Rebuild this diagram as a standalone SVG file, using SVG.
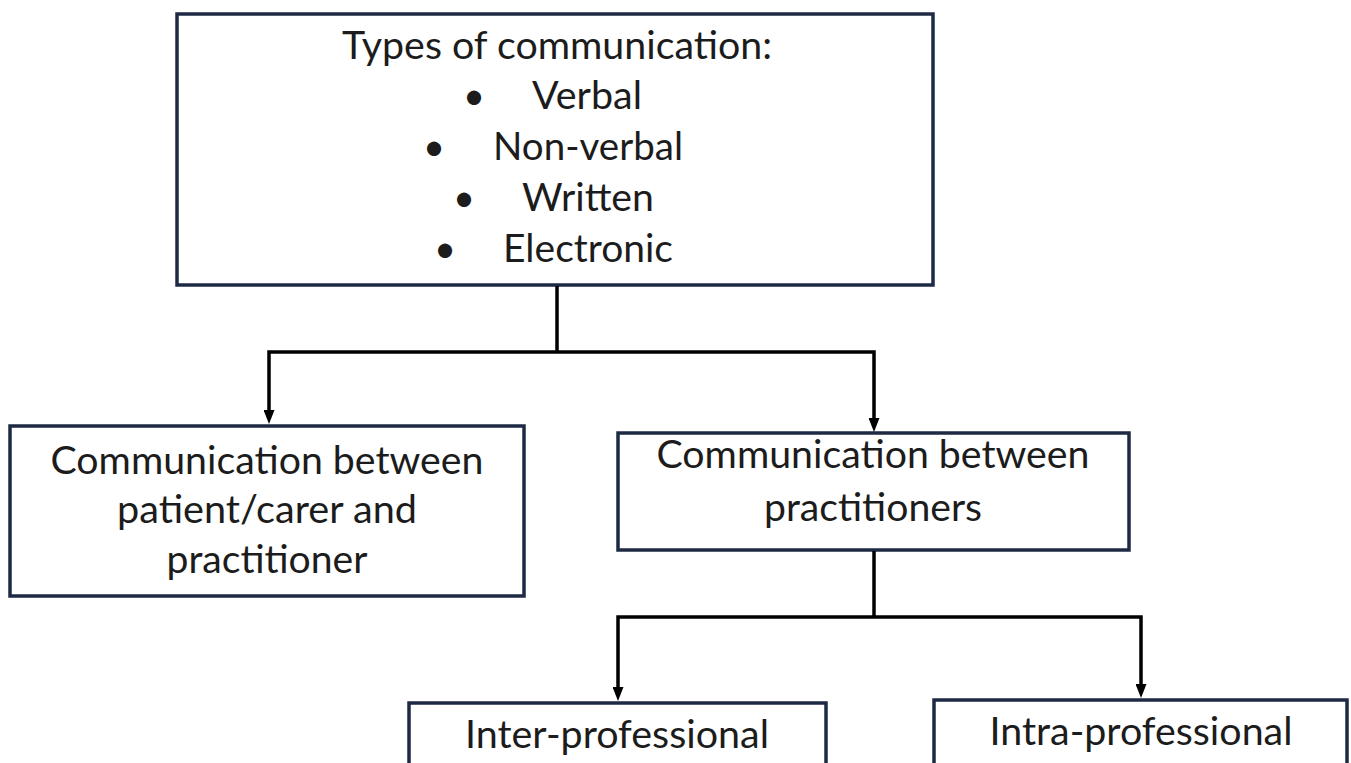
<svg xmlns="http://www.w3.org/2000/svg" width="1351" height="763" viewBox="0 0 1351 763">
  <style>
    .box { fill: #ffffff; stroke: #1e2a44; stroke-width: 3.5; }
    .lbl { font-family: Lato, "Open Sans", "Liberation Sans", sans-serif; font-size: 38px; fill: #1c1c1c; }
    .c { text-anchor: middle; }
    .conn { fill: none; stroke: #000000; stroke-width: 3.5; }
  </style>
  <defs>
    <marker id="arrow" markerUnits="userSpaceOnUse" markerWidth="14" markerHeight="11" refX="1" refY="5.5" orient="auto">
      <path d="M0,0 L14,5.5 L0,11 Z" fill="#000000"/>
    </marker>
  </defs>
  <rect width="1351" height="763" fill="#ffffff"/>

  <g id="node-types">
    <rect class="box" x="177" y="14" width="756" height="271"/>
    <text class="lbl c" x="557" y="59" textLength="430" lengthAdjust="spacingAndGlyphs">Types of communication:</text>
    <text class="lbl c" x="474" y="109">•</text>
    <text class="lbl" x="532" y="109" textLength="110" lengthAdjust="spacingAndGlyphs">Verbal</text>
    <text class="lbl c" x="434" y="160">•</text>
    <text class="lbl" x="493" y="160" textLength="190" lengthAdjust="spacingAndGlyphs">Non-verbal</text>
    <text class="lbl c" x="464" y="211">•</text>
    <text class="lbl" x="522" y="211" textLength="132" lengthAdjust="spacingAndGlyphs">Written</text>
    <text class="lbl c" x="445" y="262">•</text>
    <text class="lbl" x="503" y="262" textLength="170" lengthAdjust="spacingAndGlyphs">Electronic</text>
  </g>

  <g id="node-patient">
    <rect class="box" x="10" y="426" width="514" height="170"/>
    <text class="lbl c" x="267" y="474" textLength="433" lengthAdjust="spacingAndGlyphs">Communication between</text>
    <text class="lbl c" x="267" y="523" textLength="300" lengthAdjust="spacingAndGlyphs">patient/carer and</text>
    <text class="lbl c" x="267" y="573" textLength="201" lengthAdjust="spacingAndGlyphs">practitioner</text>
  </g>

  <g id="node-practitioners">
    <rect class="box" x="618" y="433" width="511" height="117"/>
    <text class="lbl c" x="873" y="468" textLength="433" lengthAdjust="spacingAndGlyphs">Communication between</text>
    <text class="lbl c" x="873" y="521" textLength="218" lengthAdjust="spacingAndGlyphs">practitioners</text>
  </g>

  <g id="node-inter">
    <rect class="box" x="409" y="703" width="417" height="80"/>
    <text class="lbl c" x="617" y="748" textLength="304" lengthAdjust="spacingAndGlyphs">Inter-professional</text>
  </g>

  <g id="node-intra">
    <rect class="box" x="934" y="700" width="413" height="80"/>
    <text class="lbl c" x="1141" y="745" textLength="303" lengthAdjust="spacingAndGlyphs">Intra-professional</text>
  </g>

  <g id="connectors">
    <path class="conn" d="M557,286 V352"/>
    <path class="conn" d="M557,352 H269 V411" marker-end="url(#arrow)"/>
    <path class="conn" d="M557,352 H874 V419" marker-end="url(#arrow)"/>
    <path class="conn" d="M874,551 V617"/>
    <path class="conn" d="M874,617 H618 V688" marker-end="url(#arrow)"/>
    <path class="conn" d="M874,617 H1141 V685" marker-end="url(#arrow)"/>
  </g>
</svg>
